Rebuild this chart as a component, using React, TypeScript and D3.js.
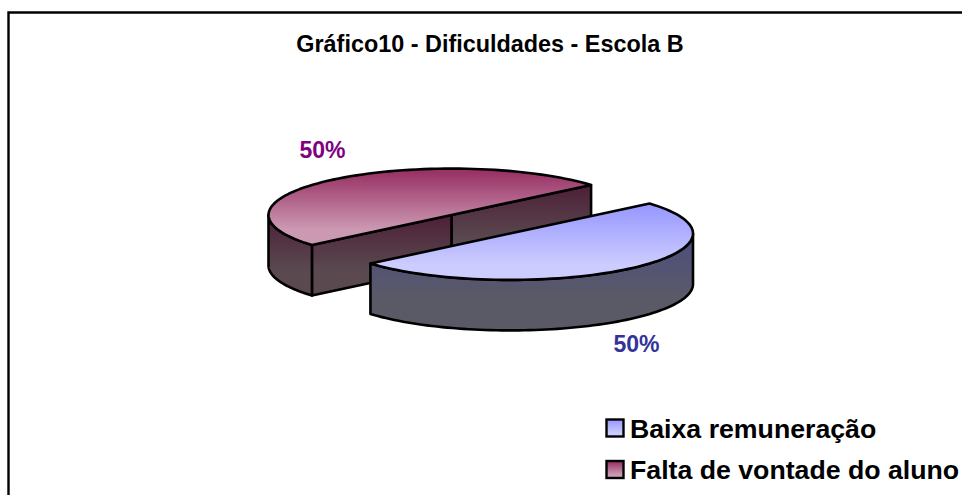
import React from "react";
import * as d3 from "d3";

const title = "Gráfico10 - Dificuldades - Escola B";
const categories = ["Baixa remuneração", "Falta de vontade do aluno"];
const values = [50, 50];
const labels = ["50%", "50%"];
const labelColors = ["#333399", "#800080"];
const labelPos = [[636.5, 352], [322.5, 158]];
const centers = [[510, 233.5], [451.5, 215]];
const RX = 183, RY = 46.4, DEPTH = 50.5;
const START = (-40.3 * Math.PI) / 180;

const arcs = d3.pie<number>().sort(null).startAngle(START).endAngle(START + 2 * Math.PI)(values);

const ids = ["b", "m"];
const topStops = [["#9999ff", "#ccccff"], ["#993366", "#cc99b3"]];
const wallStops = [["#4d4d80", "#5a5a66"], ["#4d1f38", "#5a4a50"]];

function pts(c: number[], a0: number, a1: number, dy = 0, n = 80): [number, number][] {
  return d3.range(n + 1).map((i) => {
    const t = a0 + ((a1 - a0) * i) / n;
    return [c[0] + RX * Math.cos(t), c[1] + dy + RY * Math.sin(t)];
  });
}
const line = d3.line();

function Slice({ i }: { i: number }) {
  const c = centers[i];
  const a = arcs[i];
  const s = a.startAngle, e = a.endAngle;
  const p = (t: number, dy = 0): [number, number] => [c[0] + RX * Math.cos(t), c[1] + dy + RY * Math.sin(t)];
  const topPath = line([[c[0], c[1]], ...pts(c, s, e)])! + "Z";
  const stroke = { stroke: "#000", strokeWidth: 2.6, strokeLinejoin: "round" as const };
  const w0 = i === 0 ? 0 : s;
  const w1 = i === 0 ? e : Math.PI;
  const wallPath = line([...pts(c, w0, w1), ...pts(c, w1, w0, DEPTH)])! + "Z";
  const mid: [number, number] = [c[0], c[1]];
  const midB: [number, number] = [c[0], c[1] + DEPTH];
  const grad = `url(#wall-${ids[i]})`;
  return (
    <g>
      {i === 1 && <path d={line([mid, p(e), p(e, DEPTH), midB])! + "Z"} fill={grad} {...stroke} />}
      {i === 1 && <path d={line([p(s), mid, midB, p(s, DEPTH)])! + "Z"} fill={grad} {...stroke} />}
      <path d={wallPath} fill={grad} {...stroke} />
      <path d={topPath} fill={`url(#top-${ids[i]})`} {...stroke} />
    </g>
  );
}

export default function App() {
  const legendY = [428.5, 470];
  return (
    <svg width={962} height={495} style={{ position: "absolute", left: 0, top: 0, fontFamily: "'Liberation Sans', Arial, sans-serif", fontWeight: 700 }}>
      <defs>
        {ids.map((id, i) => (
          <React.Fragment key={id}>
            <linearGradient id={`top-${id}`} x1="0" x2="0" y1="0" y2="1">
              <stop offset="0.05" stopColor={topStops[i][0]} />
              <stop offset="0.8" stopColor={topStops[i][1]} />
            </linearGradient>
            <linearGradient id={`wall-${id}`} x1="0" x2="0" y1="0" y2="1">
              <stop offset="0" stopColor={wallStops[i][0]} />
              <stop offset="0.7" stopColor={wallStops[i][1]} />
            </linearGradient>
          </React.Fragment>
        ))}
      </defs>
      <rect width={962} height={495} fill="#fff" />
      <path d="M8.5,495V12.5H962" fill="none" stroke="#000" strokeWidth={2.4} />
      <text x={490} y={51.5} textAnchor="middle" fontSize={23.4}>{title}</text>
      <Slice i={1} />
      <Slice i={0} />
      {labels.map((l, i) => (
        <text key={i} x={labelPos[i][0]} y={labelPos[i][1]} textAnchor="middle" fontSize={23} fill={labelColors[i]}>{l}</text>
      ))}
      {categories.map((cat, i) => (
        <g key={cat}>
          <rect x={606.5} y={legendY[i] - 9} width={17} height={17} fill={`url(#top-${ids[i]})`} stroke="#000" strokeWidth={2.4} />
          <text x={630} y={legendY[i] + 9} fontSize={26.7} fill="#000">{cat}</text>
        </g>
      ))}
    </svg>
  );
}
